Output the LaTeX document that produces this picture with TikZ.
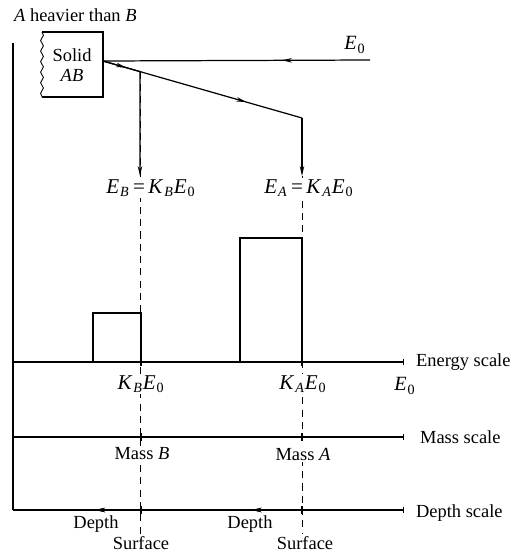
\documentclass[tikz,border=0pt]{standalone}
\usepackage{fontspec}
\setmainfont{Liberation Serif}
\usetikzlibrary{arrows.meta,positioning,calc,backgrounds,decorations.pathmorphing,decorations.markings}
\newcommand{\vsub}[2]{\textit{#1}\kern0.5pt\textsubscript{#2}}
\tikzset{
  >={Stealth[length=2mm,width=0.9mm]},
  axis/.style={line width=0.7pt},
  beam/.style={line width=0.7pt},
  bar/.style={line width=1.2pt},
  guide/.style={dash pattern=on 4pt off 3pt, line width=0.4pt},
  lbl/.style={font=\fontsize{10.5}{12}\selectfont, inner sep=1pt},
  cover/.style={lbl, fill=white},
  big/.style={cover, font=\fontsize{12}{14}\selectfont},
  midarrow/.style={postaction={decorate}, decoration={markings,
      mark=at position #1 with {\arrow{Stealth[length=2mm,width=0.9mm]}}}}
}

\begin{document}
\begin{tikzpicture}[x=0.02cm, y=-0.02cm]
\useasboundingbox (0,0) rectangle (511,555);

% target
\node[lbl, anchor=west] (title) at (12,15) {\textit{A} heavier than \textit{B}};
\coordinate (tl) at (42,32);
\coordinate (tr) at (103,32);
\coordinate (br) at (103,97);
\coordinate (bl) at (42,97);
\draw[bar] (bl) -- (br) -- (tr) -- (tl);
\draw[line width=0.5pt, decorate, decoration={snake, amplitude=0.8pt, segment length=6pt}] (tl) -- (bl);
\node[lbl, align=center] (solid) at (72,65) {Solid\\[-1pt] \textit{AB}};

% beams
\coordinate (src) at (370,60);
\coordinate (hit) at (103,61);
\coordinate (kA) at (302,118);
\coordinate (kB) at ($(hit)!0.186!(kA)$);
\coordinate (eB) at (140,176);
\coordinate (eA) at (302,176);
\node[lbl, font=\fontsize{11.5}{13}\selectfont] (Ein) at (355,45) {\vsub{E}{0}};
\draw[beam, midarrow=0.33] (src) -- (hit);
\draw[beam, midarrow=0.62] (hit) -- (kB);
\draw[beam, midarrow=0.72] (hit) -- (kA);
\draw[beam, ->] (kB) -- (eB);
\draw[beam, ->] (kA) -- (eA);

% spectrum
\draw[bar] (93,362) -- (93,313) -- (141,313) -- (141,362);
\draw[bar] (240,362) -- (240,238) -- (302,238) -- (302,362);

% scales
\coordinate (top) at (13,43);
\coordinate (org) at (13,510);
\draw[axis] (top) -- (org);
\draw[axis, -{Bar[width=1.3mm]}] (13,362) coordinate (en0) -- (404,362) coordinate (en1);
\draw[axis, -{Bar[width=1.3mm]}] (13,437) coordinate (ms0) -- (404,437) coordinate (ms1);
\draw[axis, {Bar[width=1.3mm]}-, midarrow=0.39, midarrow=0.79] (404,510) coordinate (dp1) -- (org);
\foreach \x in {141,302}
  \foreach \y in {362,437,510}
    \draw[axis] (\x,\y-4) -- (\x,\y+4);

\node[lbl, anchor=west] (escale) at (414,362) {Energy scale};
\node[lbl, anchor=west] (mscale) at (418,437) {Mass scale};
\node[lbl, anchor=west] (dscale) at (414,513) {Depth scale};

% labels on the guides
\node[big] (EB) at (139,188) {\llap{\vsub{E}{\textit{B}}\kern2pt}=\rlap{\kern2pt\vsub{K}{\textit{B}}\vsub{E}{0}}};
\node[big] (EA) at (297,188) {\llap{\vsub{E}{\textit{A}}\kern2pt}=\rlap{\kern2pt\vsub{K}{\textit{A}}\vsub{E}{0}}};
\node[big] (KB) at (141,384) {\vsub{K}{\textit{B}}\vsub{E}{0}};
\node[big] (KA) at (303,384) {\vsub{K}{\textit{A}}\vsub{E}{0}};
\node[lbl, font=\fontsize{11.5}{13}\selectfont] (Eend) at (405,386) {\vsub{E}{0}};
\node[cover] (massB) at (142,454) {Mass \textit{B}};
\node[cover] (massA) at (303,454) {Mass \textit{A}};
\node[lbl] (depB) at (96,524) {Depth};
\node[lbl] (depA) at (250,524) {Depth};
\node[lbl] (surfB) at (141,543) {Surface};
\node[lbl] (surfA) at (305,543) {Surface};

\begin{scope}[on background layer]
\draw[guide] (kB) -- (kB |- surfB.north);
\draw[guide] (eA) -- (eA |- surfA.north);
\end{scope}

\end{tikzpicture}
\end{document}
